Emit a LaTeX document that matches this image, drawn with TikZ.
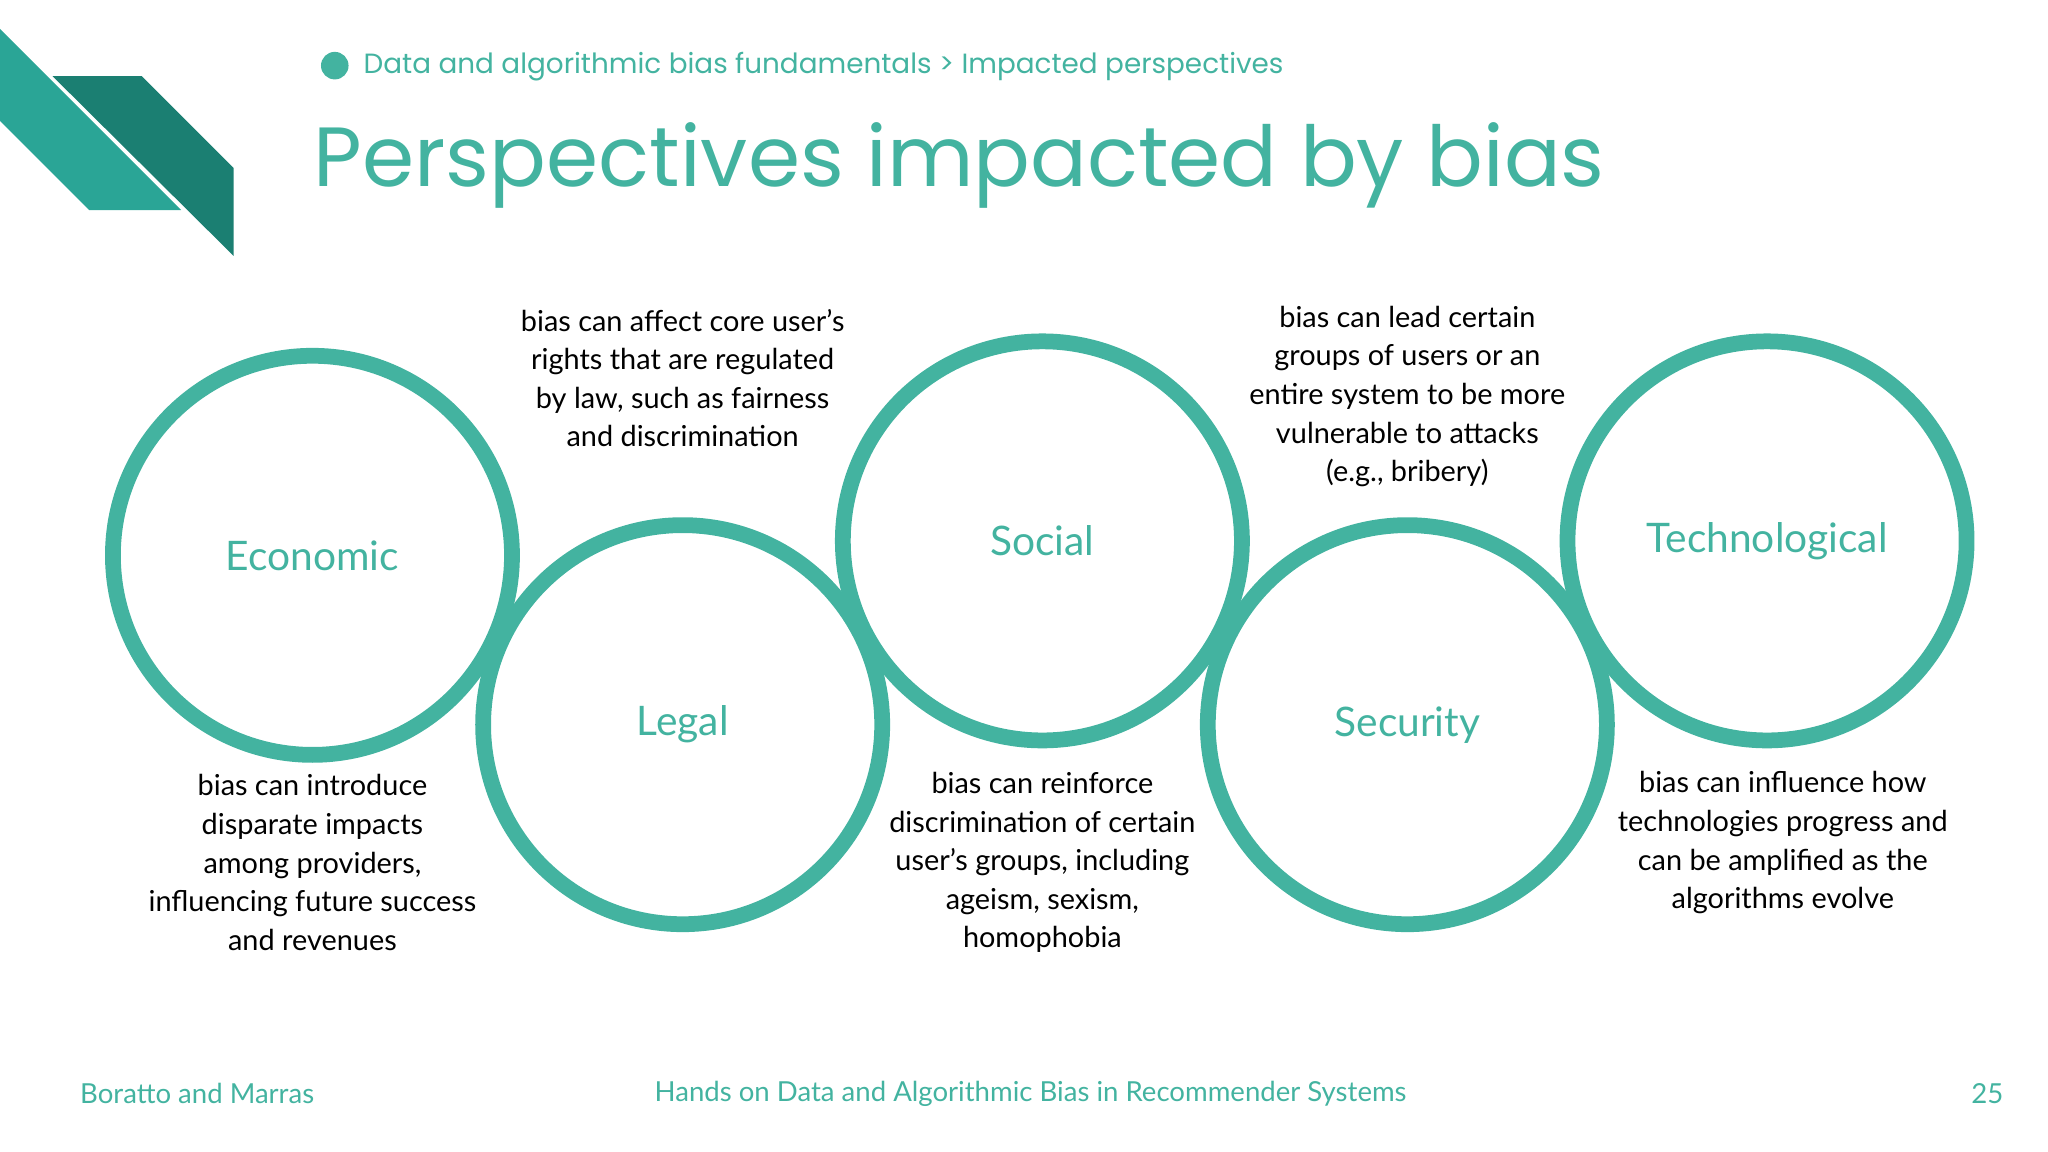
\documentclass[tikz,border=0pt]{standalone}
\usepackage{fontspec}
\setmainfont{Lato}
\newfontfamily\headfont{Poppins}
\definecolor{teal1}{HTML}{43B3A0}
\definecolor{tealL}{HTML}{2AA596}
\definecolor{tealD}{HTML}{1B7F72}
\begin{document}
\begin{tikzpicture}[x=0.5pt,y=-0.5pt,
  ring/.style={draw=teal1,line width=6pt,circle,minimum size=152pt,inner sep=0pt},
  lab/.style={text=teal1,font=\fontsize{15.5}{18}\selectfont},
  desc/.style={align=center,font=\fontsize{11}{14.7}\selectfont,text=black}]
\useasboundingbox (0,0) rectangle (1560,877.5);
\fill[tealL] (0,22) -- (138,160) -- (68,160) -- (0,92) -- cycle;
\fill[tealD] (40,58) -- (108,58) -- (178,128) -- (178,195) -- cycle;
\fill[teal1] (255,50) circle (10.5);
\node[anchor=west,text=teal1,font=\headfont\fontsize{10.6}{13}\selectfont] (crumb) at (270,51) {Data and algorithmic bias fundamentals > Impacted perspectives};
\node[anchor=west,text=teal1,font=\headfont\fontsize{32}{36}\selectfont] (title) at (232,126) {Perspectives impacted by bias};
\node[ring] (eco) at (238,423) {};
\node[ring] (leg) at (520,552) {};
\node[ring] (soc) at (794,412) {};
\node[ring] (sec) at (1072,552) {};
\node[ring] (tec) at (1346,412) {};
\node[lab] at (eco) {Economic};
\node[lab] at (leg) {Legal};
\node[lab] at (soc) {Social};
\node[lab] at (sec) {Security};
\node[lab] at (tec) {Technological};
\node[desc] (d1) at (238,657) {bias can introduce\\disparate impacts\\among providers,\\influencing future success\\and revenues};
\node[desc] (d2) at (520,288) {bias can affect core user's\\rights that are regulated\\by law, such as fairness\\and discrimination};
\node[desc] (d3) at (794,657) {bias can reinforce\\discrimination of certain\\user's groups, including\\ageism, sexism,\\homophobia};
\node[desc] (d4) at (1072,302) {bias can lead certain\\groups of users or an\\entire system to be more\\vulnerable to attacks\\(e.g., bribery)};
\node[desc] (d5) at (1358,642) {bias can influence how\\technologies progress and\\can be amplified as the\\algorithms evolve};
\node[anchor=west,text=teal1,font=\fontsize{10.5}{13}\selectfont] (f1) at (54,833) {Boratto and Marras};
\node[text=teal1,font=\fontsize{10.5}{13}\selectfont] (f2) at (785,833) {Hands on Data and Algorithmic Bias in Recommender Systems};
\node[anchor=east,text=teal1,font=\fontsize{10.5}{13}\selectfont] (f3) at (1533,833) {25};
\end{tikzpicture}
\end{document}
